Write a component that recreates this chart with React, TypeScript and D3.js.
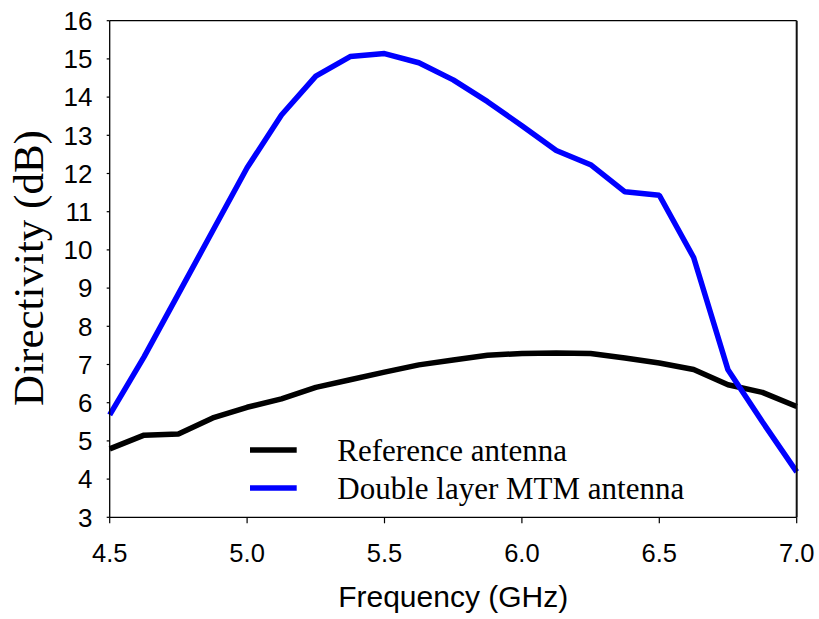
import React from "react";
import * as d3 from "d3";

const freq = [4.5, 4.625, 4.75, 4.875, 5.0, 5.125, 5.25, 5.375, 5.5, 5.625, 5.75, 5.875, 6.0, 6.125, 6.25, 6.375, 6.5, 6.625, 6.75, 6.875, 7.0];
const referenceAntenna = [4.79, 5.15, 5.18, 5.6, 5.88, 6.1, 6.4, 6.6, 6.8, 6.99, 7.12, 7.24, 7.29, 7.3, 7.29, 7.17, 7.04, 6.87, 6.47, 6.27, 5.9];
const mtmAntenna = [5.68, 7.2, 8.85, 10.5, 12.15, 13.53, 14.55, 15.06, 15.14, 14.9, 14.45, 13.88, 13.25, 12.6, 12.23, 11.52, 11.43, 9.8, 6.86, 5.5, 4.19];
const xTicks = [4.5, 5.0, 5.5, 6.0, 6.5, 7.0];
const yTicks = [3, 4, 5, 6, 7, 8, 9, 10, 11, 12, 13, 14, 15, 16];
const seriesNames = ["Reference antenna", "Double layer MTM antenna"];
const seriesColors = ["#000000", "#0000ff"];

const W = 819;
const H = 619;
const left = 109.7;
const right = 796.7;
const top = 20.7;
const bottom = 517.3;

export default function App() {
  const x = d3.scaleLinear().domain([4.5, 7.0]).range([left, right]);
  const y = d3.scaleLinear().domain([3, 16]).range([bottom, top]);

  const line = d3
    .line<number>()
    .x((_, i) => x(freq[i]))
    .y((d) => y(d));

  const series = [referenceAntenna, mtmAntenna];
  const sans = "'Liberation Sans', Arial, sans-serif";
  const serif = "'Liberation Serif', 'Times New Roman', serif";

  return (
    <svg width={W} height={H} style={{ position: "absolute", left: 0, top: 0, background: "#fff" }}>
      <rect x={0} y={0} width={W} height={H} fill="#fff" />

      {/* data lines */}
      {series.map((s, i) => (
        <path key={i} d={line(s) ?? ""} fill="none" stroke={seriesColors[i]} strokeWidth={5.5} strokeLinejoin="bevel" />
      ))}

      {/* frame */}
      <line x1={left} x2={right} y1={top} y2={top} stroke="#000" strokeWidth={1.3} />
      <line x1={right} x2={right} y1={top} y2={bottom} stroke="#111" strokeWidth={2} />
      <line x1={left} x2={left} y1={top} y2={bottom} stroke="#000" strokeWidth={1.3} />
      <line x1={left} x2={right} y1={bottom} y2={bottom} stroke="#000" strokeWidth={1.3} />

      {/* y axis */}
      {yTicks.map((t) => (
        <g key={t}>
          <line x1={left - 3} x2={left} y1={y(t)} y2={y(t)} stroke="#000" strokeWidth={1.2} />
          <text x={92.5} y={y(t)} dy="0.36em" textAnchor="end" fontFamily={sans} fontSize={26} fill="#000">
            {t}
          </text>
        </g>
      ))}

      {/* x axis */}
      {xTicks.map((t) => (
        <g key={t}>
          <line x1={x(t)} x2={x(t)} y1={bottom} y2={bottom + 6} stroke="#000" strokeWidth={1.2} />
          <text x={x(t)} y={562.3} textAnchor="middle" fontFamily={sans} fontSize={25.5} fill="#000">
            {t.toFixed(1)}
          </text>
        </g>
      ))}

      <text x={(left + right) / 2} y={606.5} textAnchor="middle" fontFamily={sans} fontSize={30} fill="#000">
        Frequency (GHz)
      </text>
      <text
        transform={`translate(43,268) rotate(-90)`}
        textAnchor="middle"
        fontFamily={serif}
        fontSize={43}
        fill="#000"
      >
        Directivity (dB)
      </text>

      {/* legend */}
      {seriesNames.map((name, i) => (
        <g key={name}>
          <line x1={250} x2={296.7} y1={450 + i * 38} y2={450 + i * 38} stroke={seriesColors[i]} strokeWidth={5.5} />
          <text x={337.3} y={460.7 + i * 38.6} fontFamily={serif} fontSize={31} fill="#000">
            {name}
          </text>
        </g>
      ))}
    </svg>
  );
}
